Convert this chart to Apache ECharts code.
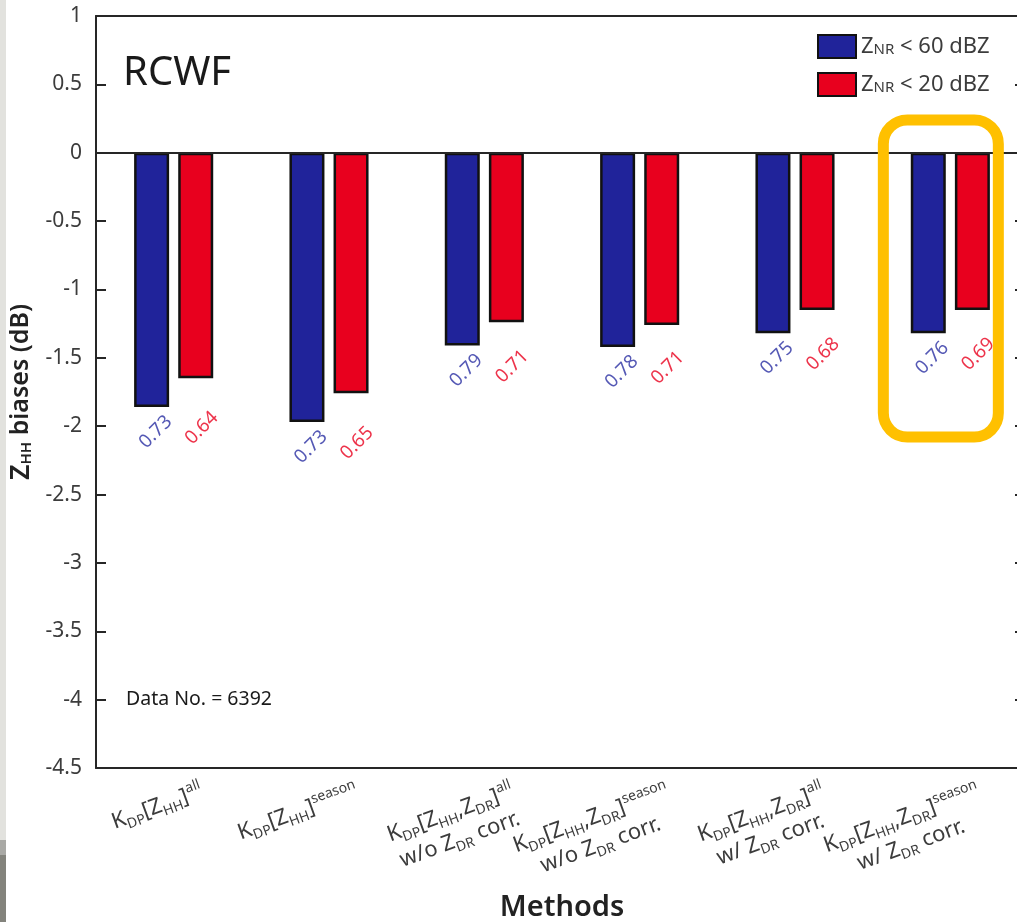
<!DOCTYPE html>
<html><head><meta charset="utf-8">
<script src="https://cdn.jsdelivr.net/npm/echarts@6/dist/echarts.min.js"></script>
<style>html,body{margin:0;padding:0;background:#fff;}#c{width:1017px;height:922px;}</style>
</head><body><div id="c"></div><script>
// ---- data ----
const categories = [
  'KDP[ZHH]all',
  'KDP[ZHH]season',
  'KDP[ZHH,ZDR]all w/o ZDR corr.',
  'KDP[ZHH,ZDR]season w/o ZDR corr.',
  'KDP[ZHH,ZDR]all w/ ZDR corr.',
  'KDP[ZHH,ZDR]season w/ ZDR corr.'
];
const categoryLabels = [
  '{m|K}{s|DP}{m|[Z}{s|HH}{m|]}{p|all}',
  '{m|K}{s|DP}{m|[Z}{s|HH}{m|]}{p|season}',
  '{m|K}{s|DP}{m|[Z}{s|HH}{m|,Z}{s|DR}{m|]}{p|all}\n{m|w/o Z}{s|DR}{m| corr.}',
  '{m|K}{s|DP}{m|[Z}{s|HH}{m|,Z}{s|DR}{m|]}{p|season}\n{m|w/o Z}{s|DR}{m| corr.}',
  '{m|K}{s|DP}{m|[Z}{s|HH}{m|,Z}{s|DR}{m|]}{p|all}\n{m|w/ Z}{s|DR}{m| corr.}',
  '{m|K}{s|DP}{m|[Z}{s|HH}{m|,Z}{s|DR}{m|]}{p|season}\n{m|w/ Z}{s|DR}{m| corr.}'
];
const seriesNames = ['ZNR < 60 dBZ', 'ZNR < 20 dBZ'];
const legendLabels = ['{z|Z}{s|NR}{z| < 60 dBZ}', '{z|Z}{s|NR}{z| < 20 dBZ}'];
const blueValues = [-1.86, -1.97, -1.41, -1.42, -1.32, -1.32];
const redValues  = [-1.65, -1.76, -1.24, -1.26, -1.15, -1.15];
const blueScores = ['0.73', '0.73', '0.79', '0.78', '0.75', '0.76'];
const redScores  = ['0.64', '0.65', '0.71', '0.71', '0.68', '0.69'];
const yMin = -4.5, yMax = 1, yStep = 0.5;
const titleText = 'RCWF';
const noteText = 'Data No. = 6392';
const highlightIndex = 5;          // highlighted method
const highlightTop = 0.24, highlightBottom = -2.08;

// ---- style ----
const FONT = 'Noto Sans';
const BLUE = '#20239a', RED = '#e8001e';
const AX = '#262626', TXT = '#3c3c3c';

const chart = echarts.init(document.getElementById('c'), null, {renderer: 'canvas'});
const labelMin = categories.map((c, i) => Math.min(blueValues[i], redValues[i]));

const richX = {
  m: {fontFamily: FONT, fontSize: 22, color: TXT, lineHeight: 28, align: 'center'},
  s: {fontFamily: FONT, fontSize: 14, color: TXT, lineHeight: 8, verticalAlign: 'bottom', align: 'center'},
  p: {fontFamily: FONT, fontSize: 14, color: TXT, lineHeight: 10, verticalAlign: 'top', align: 'center'}
};

// offset of rotated (45deg) labels, expressed in the label's rotated frame
function rotOffset(dx, dy) {
  const c = Math.SQRT1_2;
  return [dx * c - dy * c, dx * c + dy * c];
}

const option = {
  backgroundColor: '#ffffff',
  animation: false,
  title: {
    text: titleText, left: 118, top: 49,
    textStyle: {fontFamily: FONT, fontSize: 40, fontWeight: 'normal', color: '#1a1a1a'}
  },
  legend: {
    data: seriesNames, orient: 'vertical', left: 812, top: 29, icon: 'rect',
    itemWidth: 38, itemHeight: 23, itemGap: 13,
    formatter: n => legendLabels[seriesNames.indexOf(n)],
    textStyle: {
      rich: {
        z: {fontFamily: FONT, fontSize: 22, color: TXT},
        s: {fontFamily: FONT, fontSize: 15, color: TXT, verticalAlign: 'bottom', lineHeight: 6}
      }
    }
  },
  grid: {left: 96, width: 932, top: 16, bottom: 154, outerBoundsMode: 'none', containLabel: false},
  xAxis: [{
    type: 'category', data: categories, position: 'bottom',
    axisLine: {onZero: false, lineStyle: {color: AX, width: 2}},
    axisTick: {inside: true, alignWithLabel: true, length: 10, lineStyle: {color: AX, width: 2}},
    axisLabel: {
      rotate: 20, align: 'right', verticalAlign: 'top', margin: 18, padding: [0, -25, 0, 0],
      interval: 0, hideOverlap: false,
      formatter: (v, i) => categoryLabels[i], rich: richX
    },
    name: 'Methods', nameLocation: 'middle', nameGap: 125,
    nameTextStyle: {fontFamily: FONT, fontSize: 29, fontWeight: 600, color: '#222'}
  }, {
    type: 'category', data: categories, position: 'top',
    axisLine: {onZero: false, lineStyle: {color: AX, width: 2}},
    axisTick: {inside: true, alignWithLabel: true, length: 10, lineStyle: {color: AX, width: 2}},
    axisLabel: {show: false}
  }],
  yAxis: [{
    type: 'value', min: yMin, max: yMax, interval: yStep, position: 'left',
    axisLine: {show: true, lineStyle: {color: AX, width: 2}},
    axisTick: {show: true, inside: true, length: 10, lineStyle: {color: AX, width: 2}},
    splitLine: {show: false},
    axisLabel: {fontFamily: FONT, fontSize: 21, color: TXT, margin: 14},
    name: '{z|Z}{s|HH}{b| biases (dB)}', nameLocation: 'middle', nameRotate: 90, nameGap: 58,
    nameTextStyle: {
      rich: {
        z: {fontFamily: FONT, fontSize: 27, fontWeight: 600, color: '#222'},
        s: {fontFamily: FONT, fontSize: 15, fontWeight: 600, color: '#222', verticalAlign: 'bottom', lineHeight: 8},
        b: {fontFamily: FONT, fontSize: 25, fontWeight: 600, color: '#222'}
      }
    }
  }, {
    type: 'value', min: yMin, max: yMax, interval: yStep, position: 'right',
    axisLine: {show: true, lineStyle: {color: AX, width: 2}},
    axisTick: {show: true, inside: true, length: 13, lineStyle: {color: AX, width: 2}},
    splitLine: {show: false},
    axisLabel: {show: false}
  }],
  series: [{
    name: seriesNames[0], type: 'bar', data: blueValues, barWidth: 35, barGap: '26%',
    itemStyle: {color: BLUE, borderColor: '#111', borderWidth: 2.5},
    markLine: {
      silent: true, symbol: 'none', label: {show: false},
      lineStyle: {color: AX, width: 2, type: 'solid'},
      data: [{yAxis: 0}]
    }
  }, {
    name: seriesNames[1], type: 'bar', data: redValues, barWidth: 35,
    itemStyle: {color: RED, borderColor: '#111', borderWidth: 2.5}
  }, {
    name: 'blueScores', type: 'scatter', data: labelMin, symbolSize: 0, silent: true,
    label: {
      show: true, position: 'inside', offset: rotOffset(-18, 25), rotate: 45,
      align: 'center', verticalAlign: 'middle',
      formatter: p => blueScores[p.dataIndex],
      fontFamily: FONT, fontSize: 19, color: '#2a2fa3'
    }
  }, {
    name: 'redScores', type: 'scatter', data: labelMin, symbolSize: 0, silent: true,
    label: {
      show: true, position: 'inside', offset: rotOffset(28, 21), rotate: 45,
      align: 'center', verticalAlign: 'middle',
      formatter: p => redScores[p.dataIndex],
      fontFamily: FONT, fontSize: 19, color: RED
    }
  }],
  graphic: []
};
chart.setOption(option);

// annotations placed through the chart's own scales
const hx = chart.convertToPixel({xAxisIndex: 0}, categories[highlightIndex]);
const hyTop = chart.convertToPixel({yAxisIndex: 0}, highlightTop);
const hyBot = chart.convertToPixel({yAxisIndex: 0}, highlightBottom);
const noteY = chart.convertToPixel({yAxisIndex: 0}, -4);
chart.setOption({
  graphic: [
    {type: 'rect', left: 0, top: 0, shape: {width: 6, height: 840}, style: {fill: '#e2e2de'}, silent: true},
    {type: 'rect', left: 0, top: 840, shape: {width: 6, height: 15}, style: {fill: '#a9a9a5'}, silent: true},
    {type: 'rect', left: 0, top: 855, shape: {width: 6, height: 67}, style: {fill: '#83837c'}, silent: true},
    {type: 'rect', silent: true, z: 100,
      shape: {x: hx - 67, y: hyTop, width: 115, height: hyBot - hyTop, r: 24},
      style: {fill: 'none', stroke: '#ffc000', lineWidth: 11}},
    {type: 'text', silent: true, x: 126, y: noteY,
      style: {text: noteText, font: '19.5px "Noto Sans"', fill: '#1a1a1a', textVerticalAlign: 'middle'}}
  ]
});
</script></body></html>
